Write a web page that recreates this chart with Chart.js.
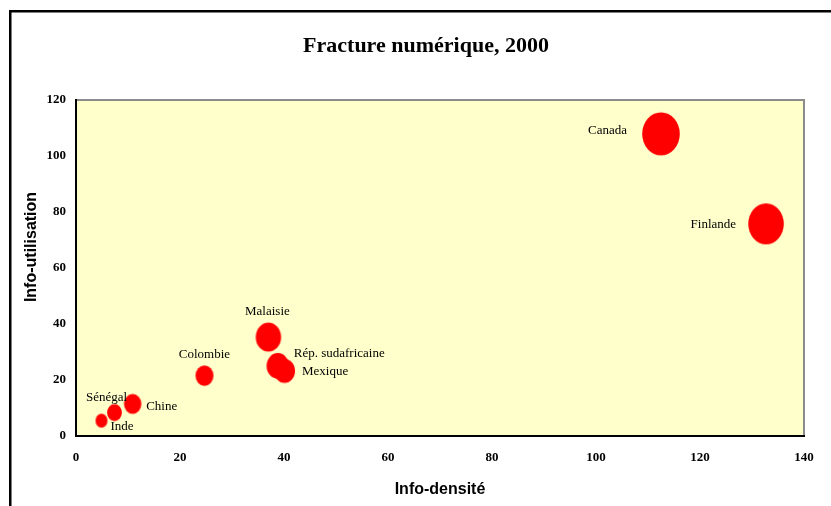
<!DOCTYPE html>
<html>
<head>
<meta charset="utf-8">
<script src="https://cdn.jsdelivr.net/npm/chart.js@4.4.1/dist/chart.umd.min.js"></script>
<style>
html,body{margin:0;padding:0;background:#fff;overflow:hidden;}
canvas{display:block;}
</style>
</head>
<body>
<canvas id="c" width="831" height="506"></canvas>
<script>
// ---- data ----
const countries = ["Canada","Finlande","Malaisie","Rép. sudafricaine","Mexique","Colombie","Chine","Sénégal","Inde"];
const infoDensite = [112.5, 132.7, 37.0, 38.8, 40.1, 24.7, 10.9, 7.4, 4.9];
const infoUtilisation = [107.9, 75.7, 35.2, 24.9, 23.1, 21.4, 11.3, 8.2, 5.3];
const bubbleSize = [18.8, 17.8, 12.7, 11.2, 10.5, 9.0, 8.7, 7.4, 6.0];
const xTicks = [0, 20, 40, 60, 80, 100, 120, 140];
const yTicks = [0, 20, 40, 60, 80, 100, 120];
const chartTitle = "Fracture numérique, 2000";
const xTitle = "Info-densité";
const yTitle = "Info-utilisation";

// ---- label placement (style, pixels relative to bubble centre) ----
const labelStyle = [
  {dx:-34, dy:-3.5, align:"right"},
  {dx:-30, dy:0.5, align:"right"},
  {dx:-1, dy:-26, align:"center"},
  {dx:16, dy:-12, align:"left"},
  {dx:17.5, dy:1, align:"left"},
  {dx:0, dy:-21.5, align:"center"},
  {dx:13.5, dy:3, align:"left"},
  {dx:-8, dy:-14.5, align:"center"},
  {dx:9, dy:5.5, align:"left"}
];
const ELLIPSE_RATIO = 1.15;

function ellipseImage(rx){
  const ry = rx*ELLIPSE_RATIO;
  const w = Math.ceil(rx*2)+2, h = Math.ceil(ry*2)+2;
  const cv = document.createElement('canvas');
  cv.width = w; cv.height = h;
  const g = cv.getContext('2d');
  g.fillStyle = '#FF0000';
  g.beginPath();
  g.ellipse(w/2, h/2, rx, ry, 0, 0, Math.PI*2);
  g.fill();
  return cv;
}
const images = bubbleSize.map(ellipseImage);

const points = countries.map((n,i)=>({x:infoDensite[i], y:infoUtilisation[i], r:bubbleSize[i]}));

const decor = {
  id:'decor',
  beforeDraw(chart){
    const ctx = chart.ctx, a = chart.chartArea;
    ctx.save();
    ctx.fillStyle = '#fff';
    ctx.fillRect(0,0,chart.width,chart.height);
    // outer frame
    ctx.fillStyle = '#000';
    ctx.fillRect(9,10,chart.width,2.5);
    ctx.fillRect(9,10,2.5,chart.height);
    // plot area background
    ctx.fillStyle = '#FFFFCC';
    ctx.fillRect(a.left,a.top,a.right-a.left,a.bottom-a.top);
    // grey top/right border
    ctx.strokeStyle = '#8c8c8c';
    ctx.lineWidth = 2;
    ctx.beginPath();
    ctx.moveTo(a.left,a.top);
    ctx.lineTo(a.right,a.top);
    ctx.lineTo(a.right,a.bottom);
    ctx.stroke();
    ctx.restore();
  },
  afterDatasetsDraw(chart){
    const ctx = chart.ctx;
    const meta = chart.getDatasetMeta(0);
    ctx.save();
    ctx.fillStyle = '#000';
    ctx.font = '13px "Liberation Serif", "Times New Roman", serif';
    ctx.textBaseline = 'middle';
    meta.data.forEach((el,i)=>{
      const s = labelStyle[i];
      ctx.textAlign = s.align;
      ctx.fillText(countries[i], el.x + s.dx, el.y + s.dy);
    });
    ctx.restore();
  },
  afterDraw(chart){
    const ctx = chart.ctx;
    ctx.save();
    ctx.fillStyle = '#000';
    ctx.textAlign = 'center';
    ctx.textBaseline = 'middle';
    ctx.font = 'bold 22px "Liberation Serif", "Times New Roman", serif';
    ctx.fillText(chartTitle, 426, 46);
    ctx.font = 'bold 16px "Liberation Sans", Arial, sans-serif';
    ctx.fillText(xTitle, 440, 490);
    ctx.translate(32, 247);
    ctx.rotate(-Math.PI/2);
    ctx.fillText(yTitle, 0, 0);
    ctx.restore();
  }
};

const tickFont = {family:'"Liberation Serif", "Times New Roman", serif', size:13, weight:'bold'};

new Chart(document.getElementById('c'), {
  type:'bubble',
  data:{datasets:[{
    data: points,
    backgroundColor:'#FF0000',
    borderWidth:0,
    pointStyle:(ctx)=>images[ctx.dataIndex]
  }]},
  options:{
    responsive:false,
    devicePixelRatio:1,
    animation:false,
    layout:{padding:{top:100,right:27,left:0,bottom:0}},
    plugins:{legend:{display:false},tooltip:{enabled:false},title:{display:false}},
    scales:{
      x:{
        type:'linear', min:0, max:140,
        afterBuildTicks(s){ s.ticks = xTicks.map(v=>({value:v})); },
        afterFit(s){ s.height = 70.5; },
        grid:{display:false, drawTicks:false},
        border:{display:true, color:'#000', width:2},
        ticks:{color:'#000', font:tickFont, padding:14, maxRotation:0}
      },
      y:{
        type:'linear', min:0, max:120,
        afterBuildTicks(s){ s.ticks = yTicks.map(v=>({value:v})); },
        afterFit(s){ s.width = 76; },
        grid:{display:false, drawTicks:false},
        border:{display:true, color:'#000', width:2},
        ticks:{color:'#000', font:tickFont, padding:10}
      }
    }
  },
  plugins:[decor]
});
</script>
</body>
</html>
